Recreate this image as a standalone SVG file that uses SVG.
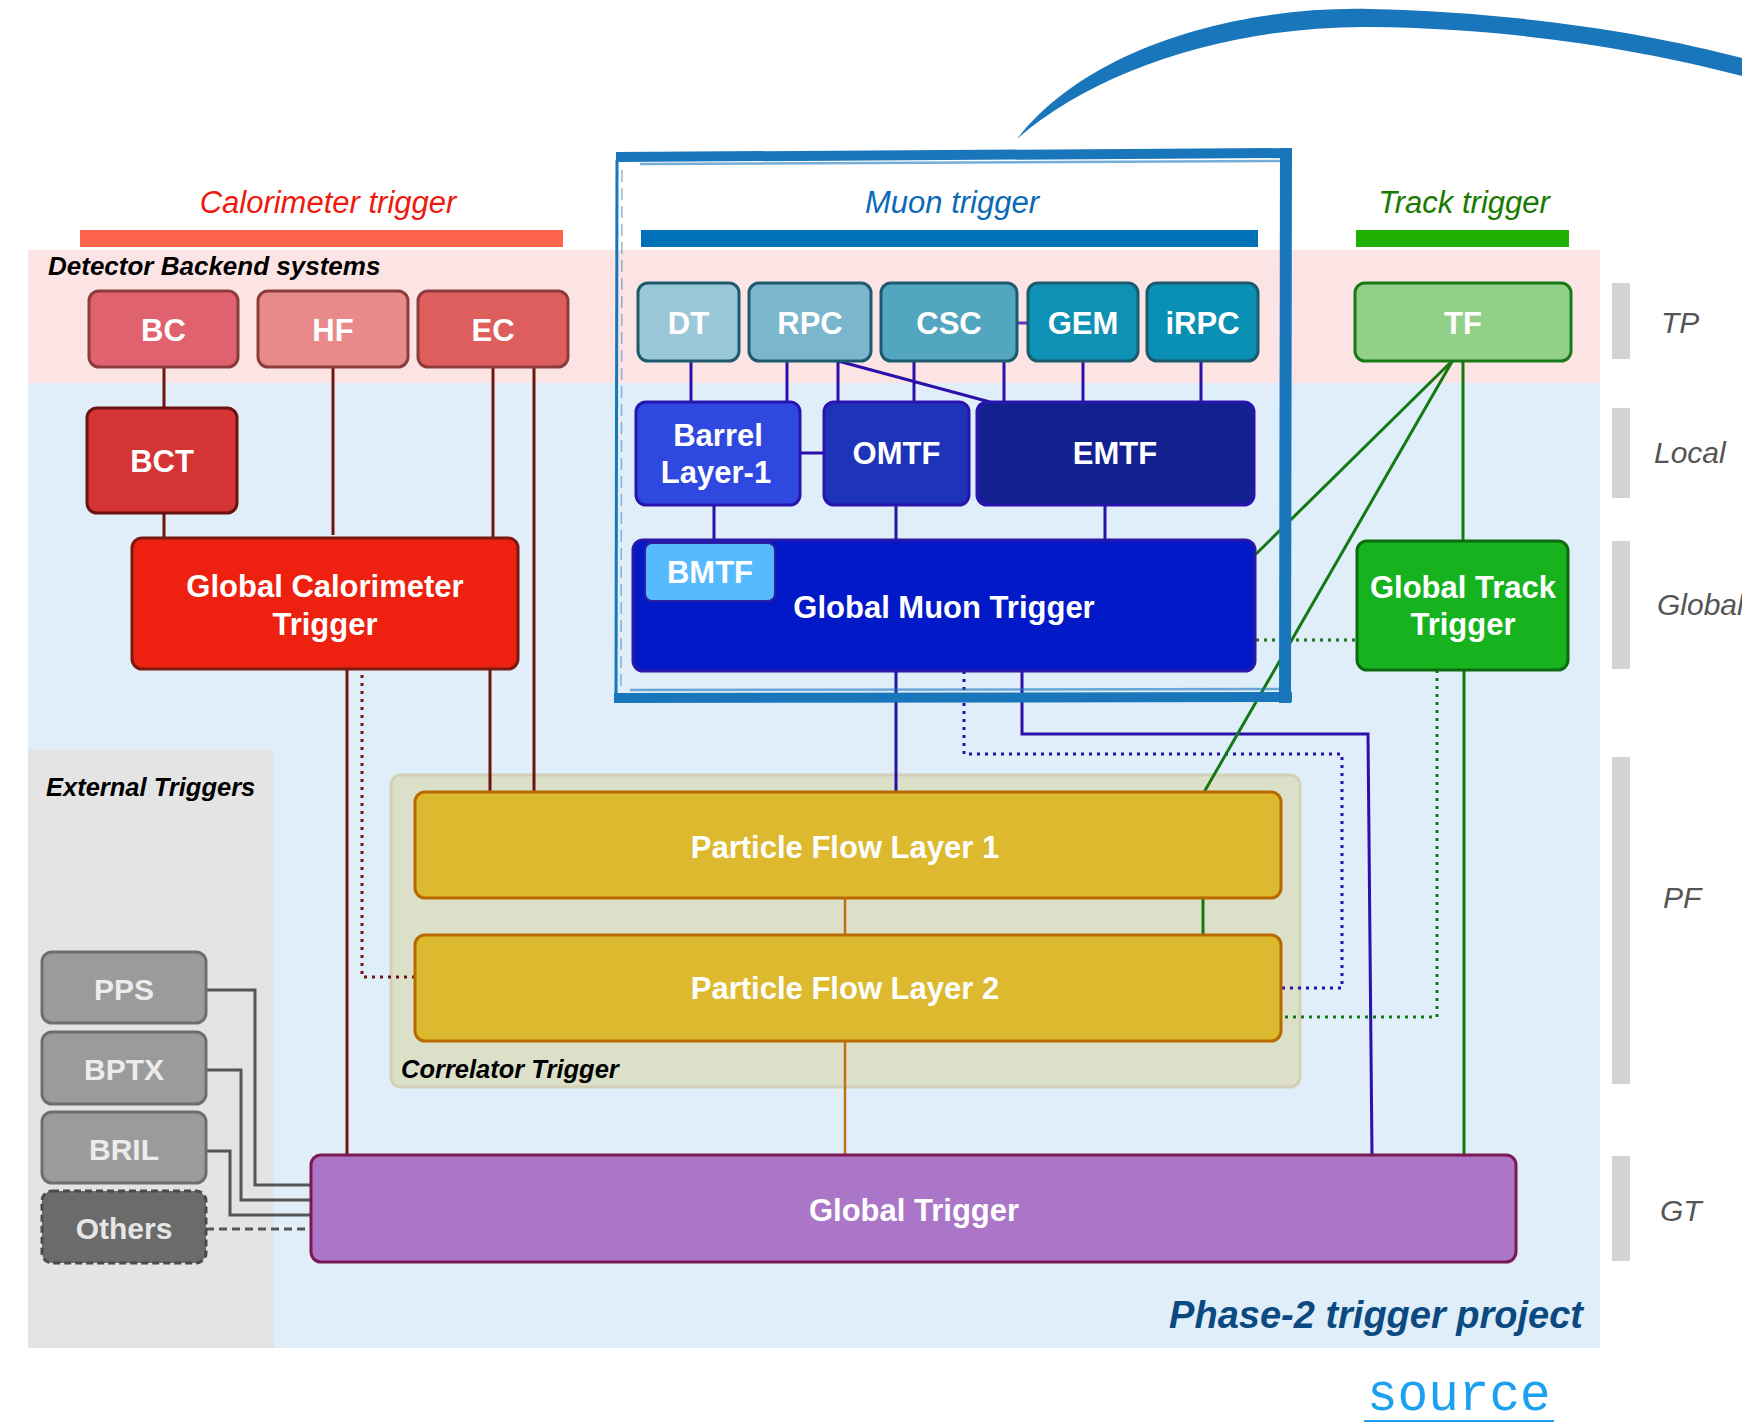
<svg xmlns="http://www.w3.org/2000/svg" width="1742" height="1423" viewBox="0 0 1742 1423">
<defs>
<style>
text{font-family:"Liberation Sans",Arial,Helvetica,sans-serif;}
.nt{font-size:31px;font-weight:bold;fill:#fff;text-anchor:middle;}
.gt{font-size:30px;font-weight:bold;fill:#ececec;text-anchor:middle;}
.sec{font-size:31px;font-style:italic;text-anchor:middle;}
.grp{font-size:25.5px;font-weight:bold;font-style:italic;fill:#000;}
.lvl{font-size:30px;font-style:italic;fill:#555;}
.lbar{fill:#d3d3d3;}
.n{stroke-width:3;}
.cal{stroke:#8c3c3c;}
.mtp{stroke:#1e5a6e;}
.mu{stroke:#2a14b0;}
.c{fill:none;stroke-width:3;}
.ccal{stroke:#6e1410;}
.cmu{stroke:#2a10a8;}
.ctr{stroke:#137a13;}
.cpf{stroke:#c07010;stroke-width:2.5;}
.cext{stroke:#555;}
.dot{stroke-dasharray:3 5;}
.brush{fill:none;stroke:#1a76ba;stroke-linecap:butt;}
</style>
</defs>
<rect width="1742" height="1423" fill="#fff"/>
<g id="background">
<rect x="28" y="383" width="1572" height="965" fill="#e0eef9"/>
<rect x="28" y="250" width="1572" height="133" fill="#fde4e4"/>
<rect x="28" y="750" width="246" height="598" fill="#e4e4e4"/>
<rect x="391" y="775" width="909" height="312" rx="10" fill="#dde0c9" stroke="#d4d0b8" stroke-width="3"/>
</g>
<g id="section-headers">
<text class="sec" x="328" y="213" fill="#ee1a10">Calorimeter trigger</text>
<rect x="80" y="230" width="483" height="17" fill="#fe634c"/>
<text class="sec" x="952" y="213" fill="#0a6ab8">Muon trigger</text>
<rect x="641" y="230" width="617" height="17" fill="#0071b8"/>
<text class="sec" x="1464" y="213" fill="#1a7a00">Track trigger</text>
<rect x="1356" y="230" width="213" height="17" fill="#1fb000"/>
<text class="grp" x="48" y="275" style="font-size:26px">Detector Backend systems</text>
<text class="grp" x="46" y="796">External Triggers</text>
<text class="grp" x="401" y="1078">Correlator Trigger</text>
<text x="1583" y="1328" text-anchor="end" style="font-size:38px;font-weight:bold;font-style:italic;fill:#0a4a80">Phase-2 trigger project</text>
</g>
<g id="levels">
<rect class="lbar" x="1612" y="283" width="18" height="76"/>
<text class="lvl" x="1661" y="333">TP</text>
<rect class="lbar" x="1612" y="408" width="18" height="90"/>
<text class="lvl" x="1654" y="463">Local</text>
<rect class="lbar" x="1612" y="541" width="18" height="128"/>
<text class="lvl" x="1657" y="615">Global</text>
<rect class="lbar" x="1612" y="757" width="18" height="327"/>
<text class="lvl" x="1663" y="908">PF</text>
<rect class="lbar" x="1612" y="1156" width="18" height="105"/>
<text class="lvl" x="1660" y="1221">GT</text>
</g>
<g id="connectors">
<path class="c ccal" d="M164 367V408M164 513V539M333 367V535M493 367V539M534 367V792M490 669V792M347 669V1155"/>
<path class="c ccal dot" d="M362 659V977H415"/>
<path class="c cmu" d="M691 361V402M787 361V402M838 361V402M838 361L990 402M914 361V402M1004 361V402M1083 361V402M1201 361V402M800 453H824M714 505V540M896 505V540M1105 505V540M896 671V792M1022 671V734H1368L1372 1155"/>
<path class="c" stroke="#5a3ab8" stroke-width="4" d="M1017 323H1028"/>
<path class="c cmu dot" d="M964 671V754H1342V988H1281"/>
<path class="c ctr" d="M1463 360V541M1453 360L1256 554M1453 360L1203 794M1203 898V935M1464 670V1155"/>
<path class="c ctr dot" d="M1256 640H1357M1437 670V1017H1281"/>
<path class="c cpf" d="M845 898V935M845 1041V1155"/>
<path class="c cext" d="M206 990H255V1185H311M206 1070H241V1200H311M206 1151H230V1215H311"/>
<path class="c cext" stroke-dasharray="8 5" d="M206 1229H311"/>
</g>
<g id="nodes">
<g id="BC"><rect class="n cal" x="89" y="291" width="149" height="76" rx="10" fill="#e0626e"/><text class="nt" x="163.5" y="341">BC</text></g>
<g id="HF"><rect class="n cal" x="258" y="291" width="150" height="76" rx="10" fill="#e88a8a"/><text class="nt" x="333" y="341">HF</text></g>
<g id="EC"><rect class="n cal" x="418" y="291" width="150" height="76" rx="10" fill="#de5e5e"/><text class="nt" x="493" y="341">EC</text></g>
<g id="BCT"><rect class="n" stroke="#6a1212" x="87" y="408" width="150" height="105" rx="10" fill="#d43434"/><text class="nt" x="162" y="472">BCT</text></g>
<g id="GCT"><rect class="n" stroke="#7a1a10" x="132" y="538" width="386" height="131" rx="10" fill="#ee2010"/><text class="nt" x="325" y="597">Global Calorimeter</text><text class="nt" x="325" y="635">Trigger</text></g>
<g id="DT"><rect class="n mtp" x="638" y="283" width="101" height="78" rx="10" fill="#9bc8d8"/><text class="nt" x="688.5" y="334">DT</text></g>
<g id="RPC"><rect class="n mtp" x="749" y="283" width="122" height="78" rx="10" fill="#7ab6cc"/><text class="nt" x="810" y="334">RPC</text></g>
<g id="CSC"><rect class="n mtp" x="881" y="283" width="136" height="78" rx="10" fill="#53a6c0"/><text class="nt" x="949" y="334">CSC</text></g>
<g id="GEM"><rect class="n mtp" x="1028" y="283" width="110" height="78" rx="10" fill="#0f90b5"/><text class="nt" x="1083" y="334">GEM</text></g>
<g id="iRPC"><rect class="n mtp" x="1147" y="283" width="111" height="78" rx="10" fill="#0a90b5"/><text class="nt" x="1202.5" y="334">iRPC</text></g>
<g id="TF"><rect class="n" stroke="#177a17" x="1355" y="283" width="216" height="78" rx="10" fill="#92cf88"/><text class="nt" x="1463" y="334">TF</text></g>
<g id="BarrelLayer1"><rect class="n mu" x="636" y="402" width="164" height="103" rx="10" fill="#2e48e0"/><text class="nt" x="718" y="446">Barrel</text><text class="nt" x="716" y="483">Layer-1</text></g>
<g id="OMTF"><rect class="n mu" x="824" y="402" width="145" height="103" rx="10" fill="#1e34b8"/><text class="nt" x="896.5" y="464">OMTF</text></g>
<g id="EMTF"><rect class="n mu" x="977" y="402" width="277" height="103" rx="10" fill="#13208f"/><text class="nt" x="1115" y="464">EMTF</text></g>
<g id="GMT"><rect class="n" stroke="#2a18a8" x="633" y="540" width="622" height="131" rx="10" fill="#0219c8"/><text class="nt" x="944" y="618">Global Muon Trigger</text></g>
<g id="BMTF"><rect stroke="#2a20a0" stroke-width="2" x="645" y="543" width="130" height="58" rx="7" fill="#56baff"/><text class="nt" x="710" y="583">BMTF</text></g>
<g id="GTT"><rect class="n" stroke="#0e6a0e" x="1357" y="541" width="211" height="129" rx="10" fill="#16b31e"/><text class="nt" x="1463" y="598">Global Track</text><text class="nt" x="1463" y="635">Trigger</text></g>
<g id="PF1"><rect class="n" stroke="#b86a00" x="415" y="792" width="866" height="106" rx="10" fill="#dcb92e"/><text class="nt" x="845" y="858">Particle Flow Layer 1</text></g>
<g id="PF2"><rect class="n" stroke="#b86a00" x="415" y="935" width="866" height="106" rx="10" fill="#dcb92e"/><text class="nt" x="845" y="999">Particle Flow Layer 2</text></g>
<g id="GT"><rect class="n" stroke="#7a1a50" x="311" y="1155" width="1205" height="107" rx="10" fill="#ab76c8"/><text class="nt" x="914" y="1221">Global Trigger</text></g>
<g id="PPS"><rect class="n" stroke="#6e6e6e" x="42" y="952" width="164" height="71" rx="10" fill="#9b9b9b"/><text class="gt" x="124" y="1000">PPS</text></g>
<g id="BPTX"><rect class="n" stroke="#6e6e6e" x="42" y="1032" width="164" height="72" rx="10" fill="#9b9b9b"/><text class="gt" x="124" y="1080">BPTX</text></g>
<g id="BRIL"><rect class="n" stroke="#6e6e6e" x="42" y="1112" width="164" height="71" rx="10" fill="#9b9b9b"/><text class="gt" x="124" y="1160">BRIL</text></g>
<g id="Others"><rect class="n" stroke="#4a4a4a" stroke-dasharray="7 4" x="42" y="1191" width="164" height="72" rx="10" fill="#6b6b6b"/><text class="gt" x="124" y="1239" style="fill:#e6e6e6">Others</text></g>
</g>
<g id="muon-highlight">
<path class="brush" stroke-width="10" d="M616 157L1292 153"/>
<path class="brush" stroke-width="2.5" opacity="0.6" d="M640 164L1282 161"/>
<path class="brush" stroke-width="12" d="M1286 148L1285 703"/>
<path class="brush" stroke-width="10" d="M614 698L1292 697"/>
<path class="brush" stroke-width="2.5" opacity="0.6" d="M630 690L1280 689"/>
<path class="brush" stroke-width="3" d="M617 160L616 700"/>
<path class="brush" stroke-width="1.5" opacity="0.5" stroke-dasharray="12 6" d="M622 170L621 690"/>
<path fill="#1a76ba" d="M1017 139C1084 52 1228 6 1369 9S1640 31 1742 58L1742 76C1640 49 1508 28 1369 27C1234 26 1098 68 1017 139Z"/>
</g>
<g id="source-link">
<text x="1367" y="1410" style="font-family:'Liberation Mono','Courier New',monospace;font-size:51px;fill:#1ea0f0">source</text>
<rect x="1364" y="1420" width="190" height="2" fill="#1ea0f0"/>
</g>
</svg>
